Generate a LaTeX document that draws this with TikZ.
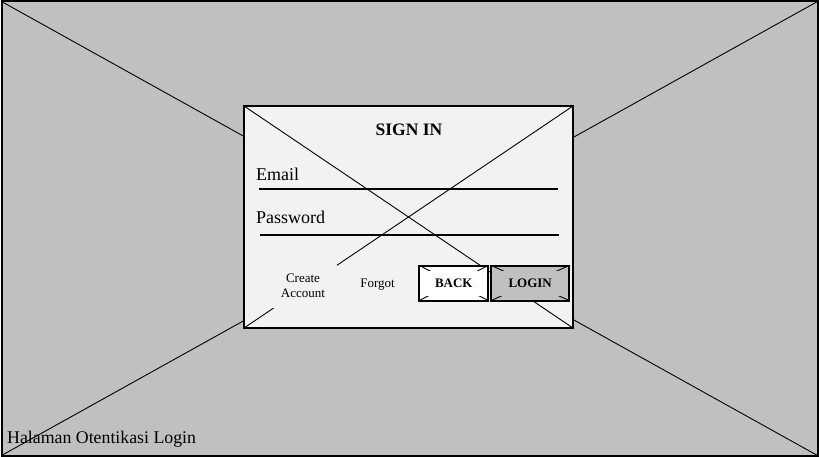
\documentclass[tikz,border=0pt]{standalone}
\usepackage{fontspec}
\setmainfont{Liberation Serif}
\usetikzlibrary{positioning}
\definecolor{wiregray}{HTML}{C0C0C0}
\definecolor{panelgray}{HTML}{F2F2F2}
\tikzset{box/.style = {draw, line width=2pt, inner sep=0pt, outer sep=0pt}}
\tikzset{cross/.style = {line width=0.9pt}}
\tikzset{field/.style = {line width=2pt}}
\tikzset{btn/.style = {box, fill=#1, minimum height=35pt,
                       font=\fontsize{13}{15}\selectfont\bfseries,
                       path picture={
                         \draw [cross] (path picture bounding box.north west) -- (path picture bounding box.south east);
                         \draw [cross] (path picture bounding box.south west) -- (path picture bounding box.north east);
                         \fill [#1] ([shift={(7pt,-5pt)}]path picture bounding box.north west)
                           rectangle ([shift={(-7pt,5pt)}]path picture bounding box.south east);}}}

\begin{document}
\begin{tikzpicture}[x=1pt, y=-1pt]
    \useasboundingbox (0, 0) rectangle (819, 457);

    \node [box, fill=wiregray, minimum width=816pt, minimum height=454pt] (screen) at (409.5, 228.5) {};
    \draw [cross] (screen.north west) -- (screen.south east);
    \draw [cross] (screen.south west) -- (screen.north east);

    \node [box, fill=panelgray, minimum width=329pt, minimum height=222pt] (panel) at (408.5, 217) {};
    \draw [cross] (panel.north west) -- (panel.south east);
    \draw [cross] (panel.south west) -- (panel.north east);

    \node [anchor=base, inner sep=0pt, font=\fontsize{17.5}{20}\selectfont\bfseries] (title) at (409, 136) {SIGN IN};
    \node [anchor=base west, inner sep=0pt, font=\fontsize{18}{21}\selectfont] (email) at (256, 181) {Email};
    \node [anchor=base west, inner sep=0pt, font=\fontsize{18}{21}\selectfont] (pass) at (256, 223.5) {Password};
    \foreach \y/\a/\b in {189/259/558, 235/260/559} {
      \draw [field] (\a, \y) -- (\b, \y);
    }

    \node [fill=panelgray, minimum width=68pt, minimum height=43pt] (create) at (303, 286.5) {};
    \node [anchor=base, inner sep=0pt, font=\fontsize{13}{15}\selectfont] at (303, 282.7) {Create};
    \node [anchor=base, inner sep=0pt, font=\fontsize{13}{15}\selectfont] at (303, 297.7) {Account};
    \node [anchor=base, inner sep=0pt, font=\fontsize{13}{15}\selectfont] (forgot) at (377.5, 287) {Forgot};

    \node [btn=white, minimum width=69pt] (back) at (453.8, 283) {BACK};
    \node [btn=wiregray, minimum width=78pt] (login) at (530.2, 283) {LOGIN};

    \node [anchor=base west, inner sep=0pt, font=\fontsize{17.8}{20}\selectfont] (caption) at (7, 443.5) {Halaman Otentikasi Login};
  \end{tikzpicture}
\end{document}
